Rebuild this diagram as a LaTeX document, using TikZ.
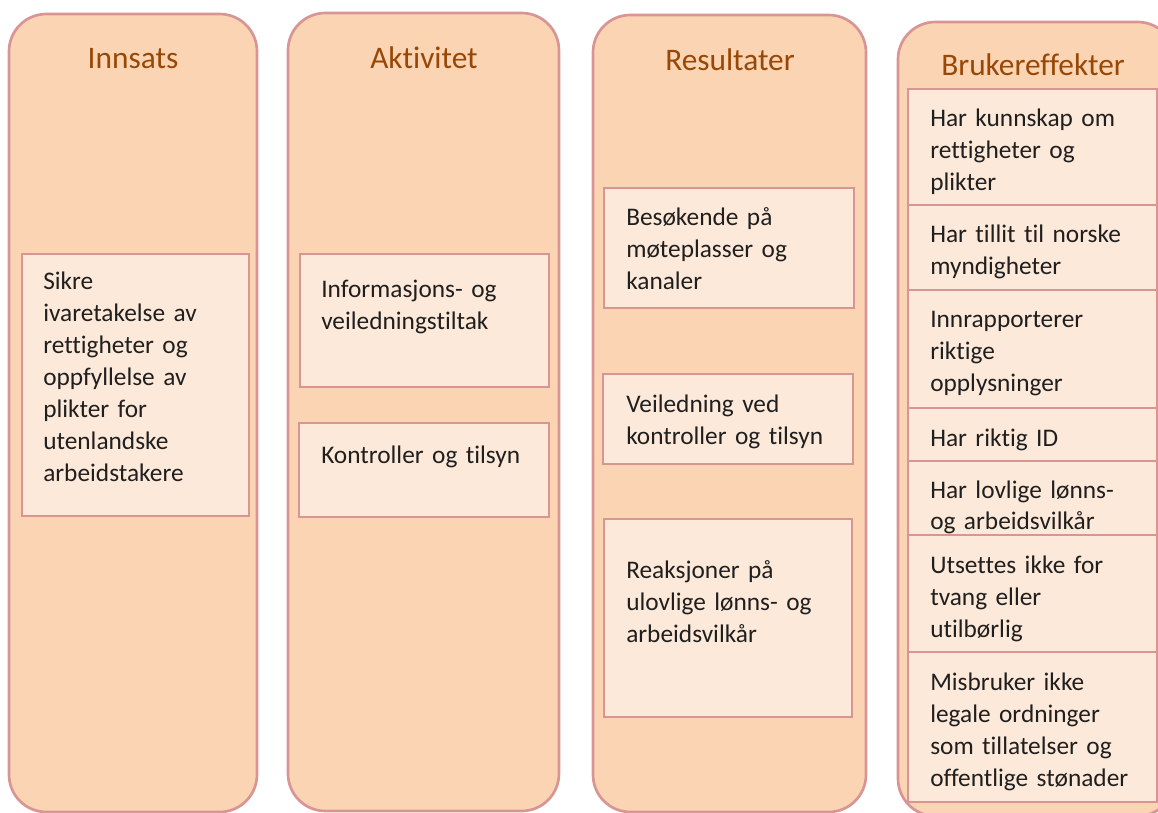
\documentclass[tikz,border=0pt]{standalone}
\usepackage{fontspec}
\setmainfont{Carlito}[Ligatures=NoCommon]
\definecolor{colfill}{HTML}{FBD4B4}
\definecolor{colline}{HTML}{D99594}
\definecolor{boxfill}{HTML}{FDE9D9}
\definecolor{headtext}{HTML}{984806}
\definecolor{bodytext}{HTML}{1F1F1F}
\begin{document}
\begin{tikzpicture}[x=.75pt,y=-.75pt,
  column/.style={draw=colline,fill=colfill,line width=2pt,rounded corners=28pt},
  box/.style={draw=colline,fill=boxfill,line width=2pt},
  head/.style={text=headtext,font=\fontsize{23.5}{28}\selectfont,anchor=base,inner sep=0pt},
  txt/.style={anchor=base west,text width=6cm,align=left,inner sep=0pt,text=bodytext,
    font=\fontsize{19}{24}\selectfont}]
\useasboundingbox (0,0) rectangle (1158,813);
\clip (0,0) rectangle (1158,813);
% columns
\draw[column] (9,14) rectangle (257,812);
\draw[column] (288,13) rectangle (559,811);
\draw[column] (593,15) rectangle (866,812);
\draw[column] (898,22) rectangle (1175,816);
\node[head] (innsats) at (133,69) {Innsats};
\node[head] (aktivitet) at (424,69) {Aktivitet};
\node[head] (resultater) at (730,71) {Resultater};
\node[head] (brukereffekter) at (1033,76) {Brukereffekter};
% inner boxes
\draw[box] (22,254) rectangle (249,516);
\draw[box] (300,254) rectangle (549,387);
\draw[box] (299,423) rectangle (549,517);
\draw[box] (604,188) rectangle (854,308);
\draw[box] (603,374) rectangle (853,464);
\draw[box] (604,519) rectangle (852,717);
\draw[box] (908,89) rectangle (1157,205);
\draw[box] (908,205) rectangle (1157,290);
\draw[box] (908,290) rectangle (1157,408);
\draw[box] (908,408) rectangle (1157,461);
\draw[box] (908,461) rectangle (1157,535);
\draw[box] (908,535) rectangle (1157,652);
\draw[box] (908,652) rectangle (1157,802);
% texts
\node[txt] (sikre) at (43,290) {Sikre\\ivaretakelse av\\rettigheter og\\oppfyllelse av\\plikter for\\utenlandske\\arbeidstakere};
\node[txt] (info) at (321,298) {Informasjons- og\\veiledningstiltak};
\node[txt] (kontroll) at (321,463) {Kontroller og tilsyn};
\node[txt] (besok) at (626,226) {Besøkende på\\møteplasser og\\kanaler};
\node[txt] (veiled) at (626,412) {Veiledning ved\\kontroller og tilsyn};
\node[txt] (reaksjon) at (626,578) {Reaksjoner på\\ulovlige lønns- og\\arbeidsvilkår};
\node[txt] (kunnskap) at (930,127) {Har kunnskap om\\rettigheter og\\plikter};
\node[txt] (tillit) at (930,243) {Har tillit til norske\\myndigheter};
\node[txt] (rapport) at (930,328) {Innrapporterer\\riktige\\opplysninger};
\node[txt] (id) at (930,446) {Har riktig ID};
\node[txt] (lovlig) at (930,498) {Har lovlige lønns-\\og arbeidsvilkår};
\node[txt] (tvang) at (930,573) {Utsettes ikke for\\tvang eller\\utilbørlig};
\node[txt] (misbruk) at (930,690) {Misbruker ikke\\legale ordninger\\som tillatelser og\\offentlige stønader};
\end{tikzpicture}
\end{document}
